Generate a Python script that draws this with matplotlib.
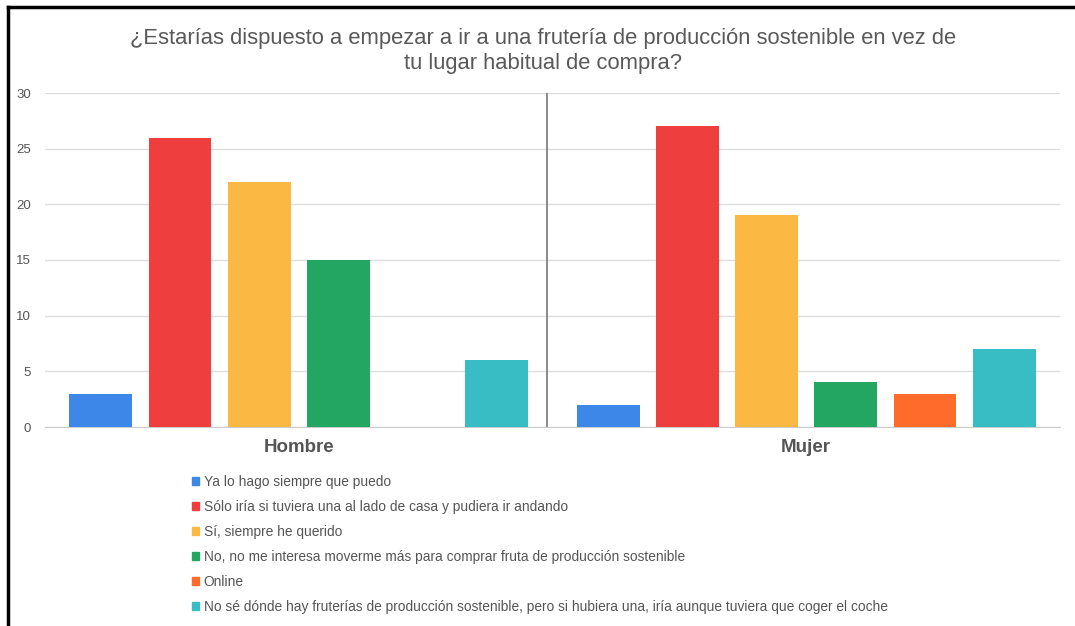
import numpy as np
import matplotlib.pyplot as plt
from matplotlib.lines import Line2D
from matplotlib.patches import Patch

plt.rcParams['font.family'] = ['Liberation Sans', 'DejaVu Sans']

groups = ['Hombre', 'Mujer']
series = [
    'Ya lo hago siempre que puedo',
    'Sólo iría si tuviera una al lado de casa y pudiera ir andando',
    'Sí, siempre he querido',
    'No, no me interesa moverme más para comprar fruta de producción sostenible',
    'Online',
    'No sé dónde hay fruterías de producción sostenible, pero si hubiera una, iría aunque tuviera que coger el coche',
]
hombre = [3, 26, 22, 15, 0, 6]
mujer = [2, 27, 19, 4, 3, 7]
colors = ['#3d87e8', '#ee3f3e', '#fbb843', '#22a661', '#ff6b2a', '#38bdc4']
yticks = [0, 5, 10, 15, 20, 25, 30]

fig = plt.figure(figsize=(10.75, 6.26), dpi=100)
ax = fig.add_axes([45 / 1075, 1 - 427 / 626, 1015 / 1075, 334 / 626])

x = np.arange(len(groups))
pitch = 0.156
width = 0.124
for i, (h, m) in enumerate(zip(hombre, mujer)):
    off = (i - 2.5) * pitch
    ax.bar(x + off, [h, m], width=width, color=colors[i], zorder=3)

ax.set_xlim(-0.5, 1.5)
ax.set_ylim(0, 30)
ax.set_yticks(yticks)
ax.set_yticklabels([str(t) for t in yticks], color='#555555', fontsize=9.5)
ax.yaxis.grid(True, color='#dddddd', linewidth=1)
ax.set_xticks(x)
ax.set_xticklabels(groups, fontsize=13.5, fontweight='bold', color='#555555')
ax.tick_params(axis='x', length=0, pad=9)
ax.tick_params(axis='y', length=0, pad=10)
for s in ['top', 'right', 'left']:
    ax.spines[s].set_visible(False)
ax.spines['bottom'].set_color('#cccccc')
ax.axvline(0.49, color='#777777', linewidth=1.2, zorder=4)

fig.text(0.505, 1 - 51 / 626, '¿Estarías dispuesto a empezar a ir a una frutería de producción sostenible en vez de\ntu lugar habitual de compra?',
         ha='center', va='center', fontsize=15.8, color='#595959', linespacing=1.2)

handles = [Patch(color=c) for c in colors]
leg = fig.legend(handles, series, loc='upper left', bbox_to_anchor=(185 / 1075, 1 - 468 / 626),
                 frameon=False, fontsize=9.9, handlelength=0.55, handleheight=0.55,
                 handletextpad=0.3, labelspacing=0.8, borderpad=0)
for t in leg.get_texts():
    t.set_color('#555555')

# black frame on left and top edges
fig.add_artist(Line2D([8 / 1075, 8 / 1075], [0, 1 - 7 / 626], color='black', linewidth=2.5))
fig.add_artist(Line2D([8 / 1075, 1], [1 - 7 / 626, 1 - 7 / 626], color='black', linewidth=2.5))

fig.savefig('out.png', dpi=100)
